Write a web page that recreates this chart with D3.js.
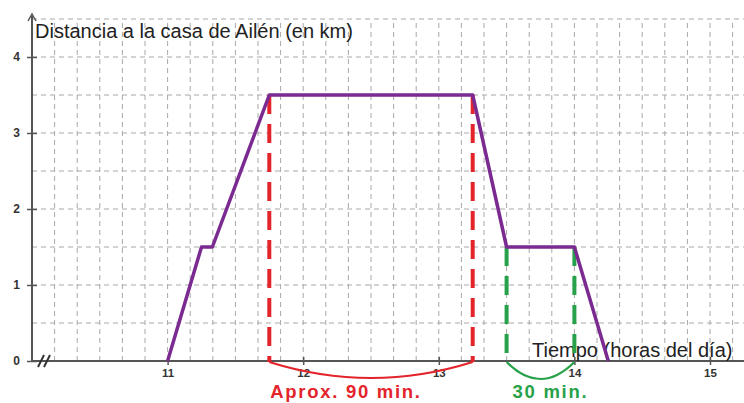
<!DOCTYPE html>
<html>
<head>
<meta charset="utf-8">
<script src="https://cdn.jsdelivr.net/npm/d3@7"></script>
<style>
  html, body { margin: 0; padding: 0; background: #fff; }
  svg { display: block; font-family: "Liberation Sans", Arial, sans-serif; }
</style>
</head>
<body>
<div id="chart"></div>
<script>
// recorrido de Ailén: hora del día -> distancia (km)
const horas = [11, 11.25, 11.33, 11.75, 13.25, 13.5, 14, 14.25];
const distancia = [0, 1.5, 1.5, 3.5, 3.5, 1.5, 1.5, 0];
const xTicks = [11, 12, 13, 14, 15];
const yTicks = [0, 1, 2, 3, 4];
const marcasRojas = [11.75, 13.25];
const marcasVerdes = [13.5, 14];

const W = 744, H = 403;
const svg = d3.select('#chart').append('svg').attr('width', W).attr('height', H);

const x = d3.scaleLinear().domain([10, 15]).range([32, 710]);
const y = d3.scaleLinear().domain([0, 4]).range([361, 57]);

// grilla punteada
const grid = svg.append('g').attr('stroke', '#a8a8a8').attr('stroke-width', 1).attr('stroke-dasharray', '5,4');
d3.range(1, 32).map(k => 10 + k / 6).forEach(t => {
    grid.append('line').attr('x1', x(t)).attr('x2', x(t)).attr('y1', y(0)).attr('y2', y(4.5));
});
d3.range(1, 10).map(k => k / 2).forEach(v => {
    grid.append('line').attr('x1', x(10)).attr('x2', W).attr('y1', y(v)).attr('y2', y(v));
});

// ejes
const axisColor = '#555';
const gy = svg.append('g').attr('transform', `translate(${x(10)},0)`)
    .call(d3.axisLeft(y).tickValues(yTicks).tickFormat(d3.format('d')).tickSize(5).tickPadding(7));
gy.select('.domain').remove();
gy.selectAll('.tick line').attr('x1', 5).attr('stroke', axisColor).attr('stroke-width', 1.5);
gy.selectAll('.tick text').attr('font-size', 12).attr('font-weight', 'bold').attr('fill', '#333')
    .attr('font-family', '"Liberation Sans", Arial, sans-serif');

const gx = svg.append('g').attr('transform', `translate(0,${y(0)})`)
    .call(d3.axisBottom(x).tickValues(xTicks).tickFormat(d3.format('d')).tickSize(4).tickPadding(4));
gx.select('.domain').remove();
gx.selectAll('.tick line').attr('y1', -4).attr('stroke', axisColor).attr('stroke-width', 1.5);
gx.selectAll('.tick text').attr('font-size', 11.5).attr('font-weight', 'bold').attr('fill', '#333')
    .attr('font-family', '"Liberation Sans", Arial, sans-serif');

svg.append('line').attr('x1', x(10)).attr('x2', W).attr('y1', y(0)).attr('y2', y(0))
    .attr('stroke', axisColor).attr('stroke-width', 2);
svg.append('line').attr('x1', x(10)).attr('x2', x(10)).attr('y1', y(0)).attr('y2', 16)
    .attr('stroke', axisColor).attr('stroke-width', 2);
svg.append('path').attr('d', `M${x(10) - 4},${21} L${x(10)},${14} L${x(10) + 4},${21}`)
    .attr('fill', 'none').attr('stroke', axisColor).attr('stroke-width', 1.5);

// corte del eje //
[0, 6].forEach(d => {
    svg.append('line').attr('x1', 38 + d).attr('x2', 44 + d).attr('y1', y(0) + 6).attr('y2', y(0) - 6)
        .attr('stroke', '#333').attr('stroke-width', 2);
});

// títulos de ejes
svg.append('text').text('Distancia a la casa de Ailén (en km)').attr('x', 35).attr('y', 38)
    .attr('font-size', 20).attr('fill', '#222');
svg.append('text').text('Tiempo (horas del día)').attr('x', 532).attr('y', 357)
    .attr('font-size', 20).attr('fill', '#222');

// marcas punteadas
marcasRojas.forEach(t => {
    svg.append('line').attr('x1', x(t)).attr('x2', x(t)).attr('y1', y(3.5)).attr('y2', y(0) + 1)
        .attr('stroke', '#e3242b').attr('stroke-width', 4).attr('stroke-dasharray', '19,10');
});
marcasVerdes.forEach(t => {
    svg.append('line').attr('x1', x(t)).attr('x2', x(t)).attr('y1', y(1.5)).attr('y2', y(0) + 1)
        .attr('stroke', '#27a24a').attr('stroke-width', 4).attr('stroke-dasharray', '19,10');
});

// llaves
function llave(a, b, color, prof) {
    const x1 = x(a), x2 = x(b), y0 = y(0) + 1;
    svg.append('path').attr('d', `M${x1},${y0} Q${(x1 + x2) / 2},${y0 + prof} ${x2},${y0}`)
        .attr('fill', 'none').attr('stroke', color).attr('stroke-width', 2.2);
}
llave(marcasRojas[0], marcasRojas[1], '#e3242b', 32);
llave(marcasVerdes[0], marcasVerdes[1], '#27a24a', 34);

svg.append('text').text('Aprox. 90 min.').attr('x', x(marcasRojas[0]) + 1).attr('y', 398)
    .attr('font-size', 18.5).attr('letter-spacing', 1.7).attr('font-weight', 'bold').attr('fill', '#e3242b');
svg.append('text').text('30 min.').attr('x', x(marcasVerdes[0]) + 6).attr('y', 398)
    .attr('font-size', 18.5).attr('letter-spacing', 1.7).attr('font-weight', 'bold').attr('fill', '#27a24a');

// recorrido
const line = d3.line().x((d, i) => x(horas[i])).y(d => y(d));
svg.append('path').datum(distancia).attr('d', line)
    .attr('fill', 'none').attr('stroke', '#7a2a90').attr('stroke-width', 3.5).attr('stroke-linejoin', 'round');
</script>
</body>
</html>
